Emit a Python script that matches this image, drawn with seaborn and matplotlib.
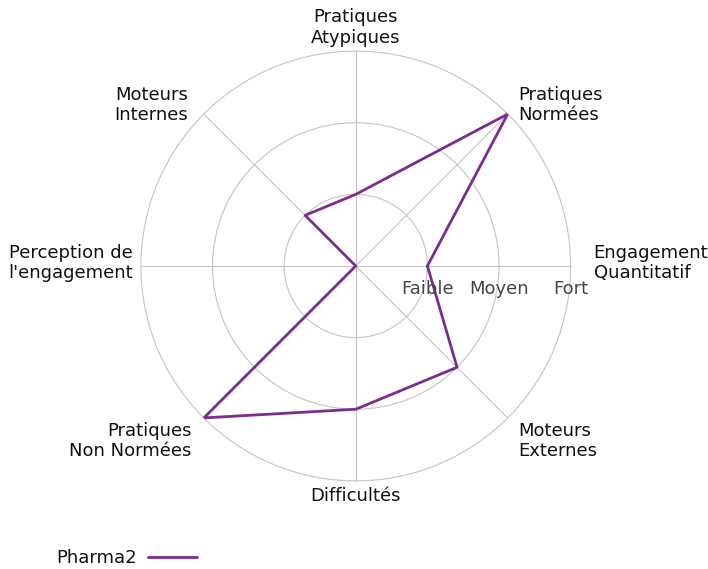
import numpy as np
import pandas as pd
import matplotlib
matplotlib.use("Agg")
import matplotlib.pyplot as plt
import seaborn as sns
from matplotlib.transforms import offset_copy

# Axes of the radar, counter-clockwise from the right
categories = [
    "Engagement\nQuantitatif",
    "Pratiques\nNormées",
    "Pratiques\nAtypiques",
    "Moteurs\nInternes",
    "Perception de\nl'engagement",
    "Pratiques\nNon Normées",
    "Difficultés",
    "Moteurs\nExternes",
]
pharma2 = [1, 3, 1, 1, 0, 3, 2, 2]
level_values = [1, 2, 3]
level_labels = ["Faible", "Moyen", "Fort"]

sns.set_theme(style="white")
plt.rcParams["font.family"] = ["DejaVu Sans"]

n = len(categories)
angles = np.linspace(0, 2 * np.pi, n, endpoint=False)
df = pd.DataFrame({
    "angle": np.append(angles, 2 * np.pi),
    "score": pharma2 + pharma2[:1],
})

fig = plt.figure(figsize=(7.08, 5.69), dpi=100)
ax = fig.add_axes([0.199, 0.1547, 0.607, 0.7557], projection="polar")

sns.lineplot(data=df, x="angle", y="score", sort=False, color="#7B2D8E",
             linewidth=2, ax=ax, label="Pharma2", legend=False)

ax.set_ylim(0, 3)
ax.set_xticks(angles)
ax.set_xticklabels([])
ax.set_yticks(level_values)
ax.set_yticklabels([])
ax.grid(True, color="#c4c4c4", linewidth=0.8)
for gl in ax.yaxis.get_gridlines() + ax.xaxis.get_gridlines():
    gl.set_clip_on(False)
ax.spines["polar"].set_visible(False)
ax.set_xlabel("")
ax.set_ylabel("")

# category labels around the outside (pixel nudges from the outer ring)
nudges = [(23, 3, "left"), (11, 9, "left"), (0, 24, "center"), (-16, 9, "right"),
          (-8, 3, "right"), (-12, -23, "right"), (0, -15, "center"), (11, -23, "left")]
for a, lab, (dx, dy, ha) in zip(angles, categories, nudges):
    tr = offset_copy(ax.transData, fig=fig, x=dx, y=dy, units="dots")
    ax.text(a, 3, lab, transform=tr, ha=ha, va="center", fontsize=13,
            color="#111111")

# level labels under the first axis
trans = offset_copy(ax.transData, fig=fig, x=0, y=-14, units="dots")
for v, lab in zip(level_values, level_labels):
    ax.text(0, v, lab, transform=trans, ha="center", va="top",
            fontsize=13, color="#444444")

leg = fig.legend(loc="lower left", bbox_to_anchor=(0.057, -0.025), frameon=False,
                 markerfirst=False, fontsize=13, handlelength=2.7,
                 handletextpad=0.6)
for t in leg.get_texts():
    t.set_color("#111111")

fig.savefig("out.png", dpi=100)
